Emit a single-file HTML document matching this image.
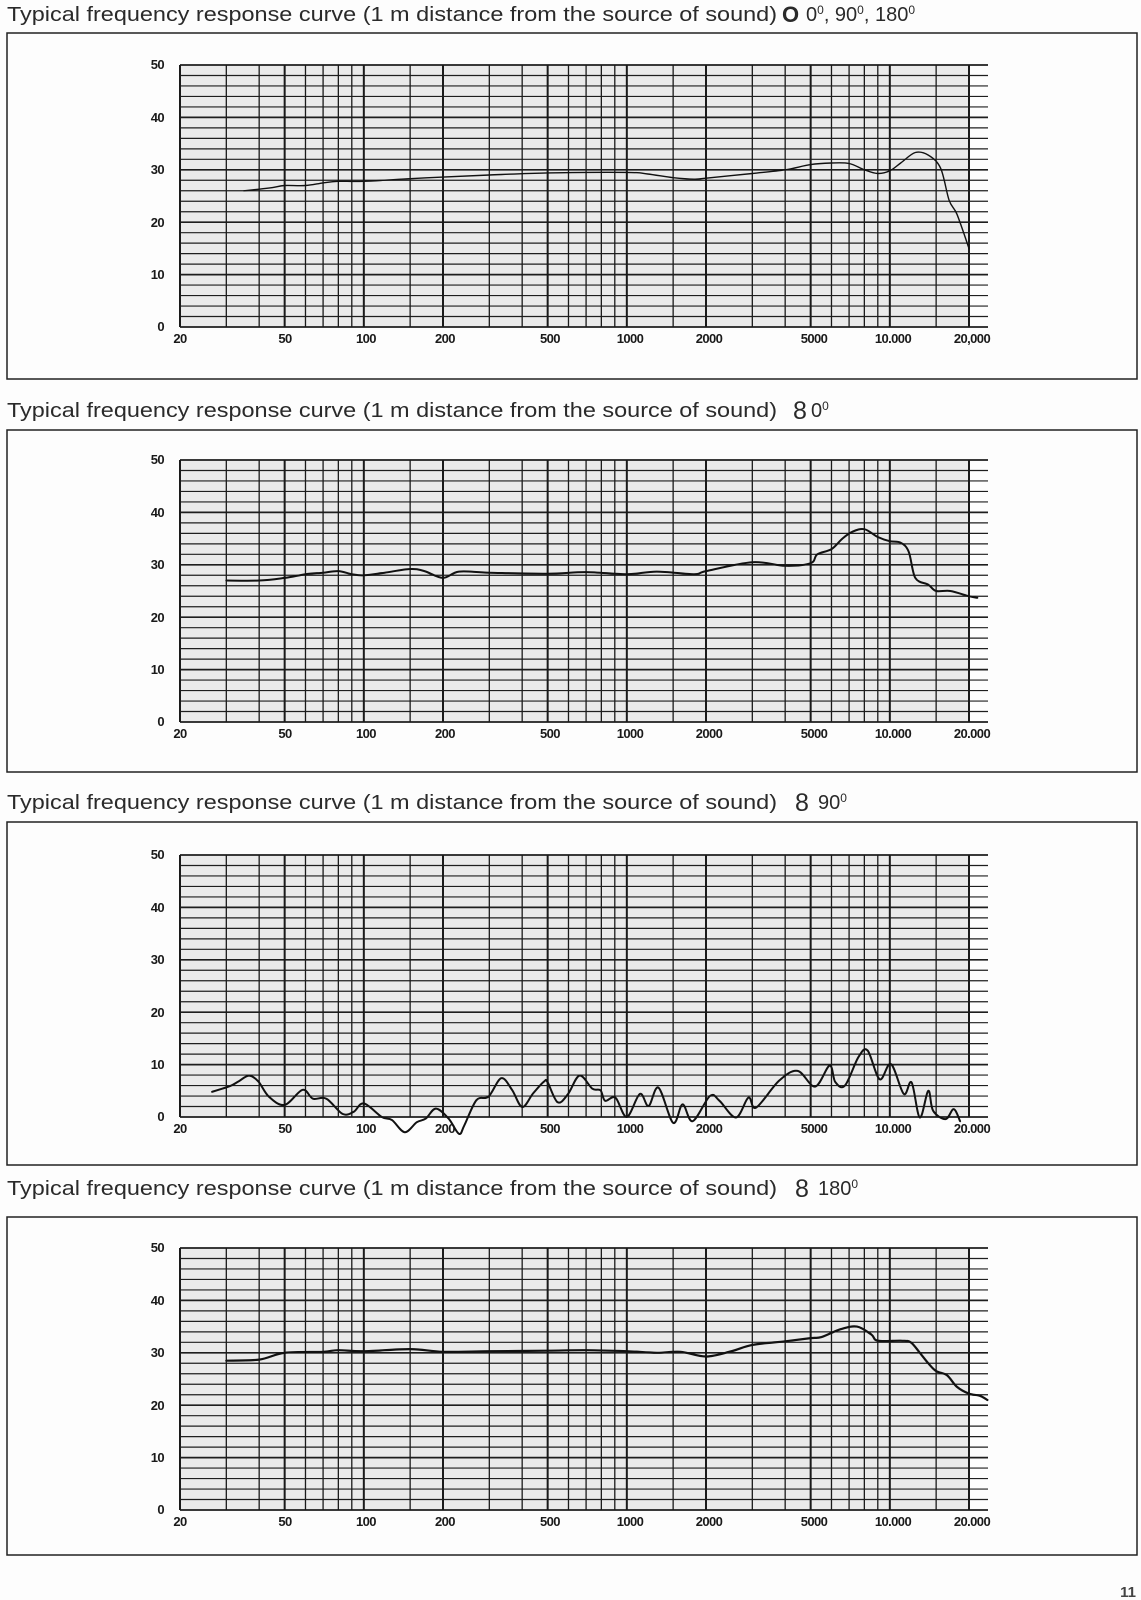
<!DOCTYPE html>
<html><head><meta charset="utf-8"><style>
html,body{margin:0;padding:0;background:#fdfdfd;}
svg{display:block;}
.t{font-family:"Liberation Sans",sans-serif;font-size:20px;fill:#2a2a2a;}
.yl{font-family:"Liberation Sans",sans-serif;font-size:13px;font-weight:bold;fill:#1a1a1a;text-anchor:end;letter-spacing:-0.6px;}
.xl{font-family:"Liberation Sans",sans-serif;font-size:13px;font-weight:bold;fill:#1a1a1a;text-anchor:middle;letter-spacing:-0.6px;}
</style></head><body>
<svg id="s" width="1141" height="1600" viewBox="0 0 1141 1600" xmlns="http://www.w3.org/2000/svg">
<rect width="1141" height="1600" fill="#fdfdfd"/>
<!-- frames -->
<rect x="7" y="33" width="1130" height="346" fill="none" stroke="#222" stroke-width="1.5"/>
<rect x="7" y="430" width="1130" height="342" fill="none" stroke="#222" stroke-width="1.5"/>
<rect x="7" y="822" width="1130" height="343" fill="none" stroke="#222" stroke-width="1.5"/>
<rect x="7" y="1217" width="1130" height="338" fill="none" stroke="#222" stroke-width="1.5"/>
<!-- titles -->
<text class="t" x="7" y="21" textLength="770" lengthAdjust="spacingAndGlyphs">Typical frequency response curve (1 m distance from the source of sound)</text>
<text class="t" x="782" y="22" style="font-size:22px;font-weight:bold">O</text>
<text class="t" x="806" y="21">0<tspan dy="-7" font-size="12">0</tspan><tspan dy="7">, 90</tspan><tspan dy="-7" font-size="12">0</tspan><tspan dy="7">, 180</tspan><tspan dy="-7" font-size="12">0</tspan></text>

<text class="t" x="7" y="417" textLength="770" lengthAdjust="spacingAndGlyphs">Typical frequency response curve (1 m distance from the source of sound)</text>
<text class="t" x="793" y="419" style="font-size:25px">8</text>
<text class="t" x="811" y="417">0<tspan dy="-7" font-size="12">0</tspan></text>

<text class="t" x="7" y="809" textLength="770" lengthAdjust="spacingAndGlyphs">Typical frequency response curve (1 m distance from the source of sound)</text>
<text class="t" x="795" y="811" style="font-size:25px">8</text>
<text class="t" x="818" y="809">90<tspan dy="-7" font-size="12">0</tspan></text>

<text class="t" x="7" y="1195" textLength="770" lengthAdjust="spacingAndGlyphs">Typical frequency response curve (1 m distance from the source of sound)</text>
<text class="t" x="795" y="1197" style="font-size:25px">8</text>
<text class="t" x="818" y="1195">180<tspan dy="-7" font-size="12">0</tspan></text>

<text x="1136" y="1597" style="font-family:'Liberation Sans',sans-serif;font-size:15px;font-weight:bold;fill:#444;text-anchor:end">11</text>

<g id="c1" transform="translate(0,65)">
<text class="yl" x="164" y="4">50</text><text class="yl" x="164" y="57">40</text><text class="yl" x="164" y="109">30</text><text class="yl" x="164" y="162">20</text><text class="yl" x="164" y="214">10</text><text class="yl" x="164" y="266">0</text>
<text class="xl" x="180" y="278">20</text><text class="xl" x="285" y="278">50</text><text class="xl" x="366" y="278">100</text><text class="xl" x="445" y="278">200</text><text class="xl" x="550" y="278">500</text><text class="xl" x="630" y="278">1000</text><text class="xl" x="709" y="278">2000</text><text class="xl" x="814" y="278">5000</text><text class="xl" x="893" y="278">10.000</text><text class="xl" x="972" y="278">20,000</text>
</g>
<g id="c2" transform="translate(0,460)">
<text class="yl" x="164" y="4">50</text><text class="yl" x="164" y="57">40</text><text class="yl" x="164" y="109">30</text><text class="yl" x="164" y="162">20</text><text class="yl" x="164" y="214">10</text><text class="yl" x="164" y="266">0</text>
<text class="xl" x="180" y="278">20</text><text class="xl" x="285" y="278">50</text><text class="xl" x="366" y="278">100</text><text class="xl" x="445" y="278">200</text><text class="xl" x="550" y="278">500</text><text class="xl" x="630" y="278">1000</text><text class="xl" x="709" y="278">2000</text><text class="xl" x="814" y="278">5000</text><text class="xl" x="893" y="278">10.000</text><text class="xl" x="972" y="278">20.000</text>
</g>
<g id="c3" transform="translate(0,855)">
<text class="yl" x="164" y="4">50</text><text class="yl" x="164" y="57">40</text><text class="yl" x="164" y="109">30</text><text class="yl" x="164" y="162">20</text><text class="yl" x="164" y="214">10</text><text class="yl" x="164" y="266">0</text>
<text class="xl" x="180" y="278">20</text><text class="xl" x="285" y="278">50</text><text class="xl" x="366" y="278">100</text><text class="xl" x="445" y="278">200</text><text class="xl" x="550" y="278">500</text><text class="xl" x="630" y="278">1000</text><text class="xl" x="709" y="278">2000</text><text class="xl" x="814" y="278">5000</text><text class="xl" x="893" y="278">10.000</text><text class="xl" x="972" y="278">20.000</text>
</g>
<g id="c4" transform="translate(0,1248)">
<text class="yl" x="164" y="4">50</text><text class="yl" x="164" y="57">40</text><text class="yl" x="164" y="109">30</text><text class="yl" x="164" y="162">20</text><text class="yl" x="164" y="214">10</text><text class="yl" x="164" y="266">0</text>
<text class="xl" x="180" y="278">20</text><text class="xl" x="285" y="278">50</text><text class="xl" x="366" y="278">100</text><text class="xl" x="445" y="278">200</text><text class="xl" x="550" y="278">500</text><text class="xl" x="630" y="278">1000</text><text class="xl" x="709" y="278">2000</text><text class="xl" x="814" y="278">5000</text><text class="xl" x="893" y="278">10.000</text><text class="xl" x="972" y="278">20.000</text>
</g>
</svg>
<script>
(function(){
var NS="http://www.w3.org/2000/svg";
var H=262,L=180,D=263,XR=988;
function X(f){return L+D*Math.log10(f/20);}
function Y(db){return H-db/50*H;}
function el(p,n,a){var e=document.createElementNS(NS,n);for(var k in a)e.setAttribute(k,a[k]);p.insertBefore(e,p.firstChild);return e;}
function add(p,n,a){var e=document.createElementNS(NS,n);for(var k in a)e.setAttribute(k,a[k]);p.appendChild(e);return e;}
var freqs=[20,30,40,50,60,70,80,90,100,150,200,300,400,500,600,700,800,900,1000,1500,2000,3000,4000,5000,6000,7000,8000,9000,10000,15000,20000];
var data={
c1:{w:1.4,p:[[35,26],[40,26.3],[45,26.6],[50,27],[60,27],[70,27.5],[80,27.8],[100,27.8],[150,28.3],[200,28.6],[300,29],[500,29.4],[1000,29.5],[1200,29.2],[1500,28.5],[1800,28.2],[2000,28.4],[3000,29.3],[4000,30],[5000,31],[6000,31.3],[7000,31.2],[8000,30],[9000,29.3],[10000,29.8],[11000,31.3],[12500,33.3],[14000,32.8],[15600,30.3],[16800,24.2],[18000,21.5],[20000,15]]},
c2:{w:2,p:[[30,27],[40,27],[50,27.5],[60,28.2],[70,28.5],[80,28.8],[90,28.2],[100,28],[120,28.5],[150,29.2],[170,28.8],[200,27.5],[230,28.7],[300,28.5],[500,28.3],[700,28.6],[1000,28.2],[1300,28.7],[1800,28.2],[2000,28.8],[3000,30.5],[4000,29.8],[5000,30.3],[5300,32],[6000,33],[6600,35],[7200,36.3],[8000,36.8],[9000,35.3],[10000,34.5],[11000,34.2],[11800,32.5],[12500,27.5],[14000,26.2],[15000,25],[17000,25],[20000,24],[21500,23.7]]},
c3:{w:2,p:[[26.5,4.8],[31,5.9],[33.4,6.8],[36.6,7.9],[39.7,6.8],[43.5,3.9],[50,2.3],[58.5,5.2],[64,3.5],[72,3.5],[83,0.6],[91.5,1],[100,2.6],[117,0],[128,-0.6],[143,-2.9],[159,-1],[172,-0.3],[188,1.6],[210,-0.3],[230,-3.2],[241,-1.6],[268,3.2],[298,3.9],[333,7.4],[366,5.2],[400,1.9],[440,4.5],[485,6.8],[500,6.6],[546,2.8],[598,4.4],[661,7.9],[740,5.4],[794,5.1],[827,3.1],[905,3.7],[1000,0],[1121,4.4],[1210,2.1],[1320,5.6],[1500,-1.1],[1630,2.4],[1780,-0.8],[2070,4],[2250,3.1],[2600,-0.1],[2900,3.7],[3100,1.8],[3790,6.9],[4460,8.8],[5200,5.8],[5900,9.8],[6200,6.7],[6750,6],[7590,11.4],[8230,12.7],[9150,7.2],[10100,10.1],[11300,4.4],[12100,6.6],[13000,-0.1],[14000,5],[14600,1.2],[16300,-0.4],[17500,1.5],[18500,-0.8]]},
c4:{w:2.2,p:[[30,28.5],[40,28.7],[50,30],[70,30.2],[80,30.5],[100,30.3],[150,30.7],[200,30.2],[300,30.3],[500,30.4],[700,30.5],[1000,30.3],[1300,30],[1600,30.2],[2000,29.3],[2500,30.3],[3000,31.5],[4000,32.2],[5000,32.8],[5500,33],[6500,34.5],[7500,35],[8500,33.5],[9000,32.3],[11000,32.3],[12000,32],[13000,30],[14000,28],[15000,26.5],[16500,25.7],[18000,23.5],[20000,22.2],[22000,21.8],[23500,21]]}
};
["c1","c2","c3","c4"].forEach(function(id){
 var g=document.getElementById(id);
 var grid=document.createElementNS(NS,"g");g.insertBefore(grid,g.firstChild);
 add(grid,"rect",{x:L,y:0,width:X(20000)-L,height:H,fill:"#eaeaea"});
 for(var i=0;i<=25;i++){var y=i*H/25;var db=50-i*2;
  add(grid,"line",{x1:L,y1:y,x2:XR,y2:y,stroke:"#1e1e1e","stroke-width":(db%10==0)?1.7:1.2});}
 freqs.forEach(function(f){var x=X(f);var s=String(f);
  var b=(s.charAt(0)=="1"&&/^10*$/.test(s))||(s.charAt(0)=="2"&&/^20*$/.test(s))||(/^50*$/.test(s));
  add(grid,"line",{x1:x,y1:0,x2:x,y2:H,stroke:"#1a1a1a","stroke-width":b?2:1.3});});
 var pts=data[id].p.map(function(p){return [X(p[0]),Y(p[1])];});
 var d="M"+pts[0][0].toFixed(1)+","+pts[0][1].toFixed(1);
 for(var k=0;k<pts.length-1;k++){
  var p0=pts[k-1]||pts[k],p1=pts[k],p2=pts[k+1],p3=pts[k+2]||p2;
  var c1x=p1[0]+(p2[0]-p0[0])/6,c1y=p1[1]+(p2[1]-p0[1])/6,c2x=p2[0]-(p3[0]-p1[0])/6,c2y=p2[1]-(p3[1]-p1[1])/6;
  d+=" C"+c1x.toFixed(1)+","+c1y.toFixed(1)+" "+c2x.toFixed(1)+","+c2y.toFixed(1)+" "+p2[0].toFixed(1)+","+p2[1].toFixed(1);}
 add(g,"path",{d:d,fill:"none",stroke:"#111","stroke-width":data[id].w,"stroke-linejoin":"round","stroke-linecap":"round"});
});
})();
</script>
</body></html>
